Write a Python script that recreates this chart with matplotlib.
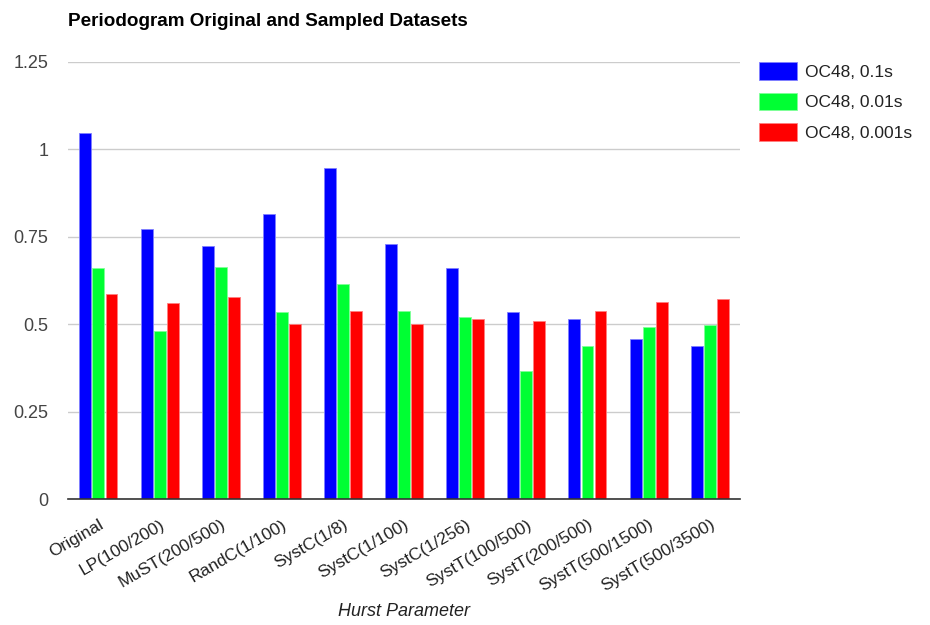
import matplotlib
matplotlib.use('Agg')
import matplotlib.pyplot as plt
import numpy as np

plt.rcParams['font.family'] = ['Liberation Sans', 'DejaVu Sans']

# categorias e valores
categorias = ['Original', 'LP(100/200)', 'MuST(200/500)', 'RandC(1/100)', 'SystC(1/8)',
              'SystC(1/100)', 'SystC(1/256)', 'SystT(100/500)', 'SystT(200/500)',
              'SystT(500/1500)', 'SystT(500/3500)']
oc48_01 = [1.048, 0.771, 0.724, 0.816, 0.947, 0.728, 0.661, 0.534, 0.514, 0.459, 0.438]
oc48_001 = [0.661, 0.480, 0.665, 0.534, 0.615, 0.539, 0.522, 0.366, 0.438, 0.492, 0.497]
oc48_0001 = [0.586, 0.560, 0.577, 0.501, 0.539, 0.502, 0.514, 0.510, 0.539, 0.564, 0.573]
series_nomes = ['OC48, 0.1s', 'OC48, 0.01s', 'OC48, 0.001s']
cores = ['#0000ff', '#00ff33', '#ff0000']
bordas = ['#8080ff', '#80ff99', '#ff8080']

fig = plt.figure(figsize=(9.3, 6.25), dpi=100)
ax = fig.add_axes([0.073, 0.2016, 0.723, 0.6992])

x = np.arange(len(categorias))
w = 0.195
offs = [-0.213, 0, 0.213]
for dados, nome, cor, borda, o in zip([oc48_01, oc48_001, oc48_0001], series_nomes, cores, bordas, offs):
    ax.bar(x + o, dados, w, color=cor, edgecolor=borda, linewidth=0.6, label=nome, zorder=3)

ax.set_xlim(-0.5, len(categorias) - 0.5)
ax.set_ylim(0, 1.25)
ax.set_yticks([0, 0.25, 0.5, 0.75, 1, 1.25])
ax.set_yticklabels(['0', '0.25', '0.5', '0.75', '1', '1.25'])
ax.grid(axis='y', color='#cccccc', linewidth=1, zorder=0)
ax.tick_params(axis='y', length=0, pad=14, labelsize=13, labelcolor='#444444')
ax.tick_params(axis='x', length=0, pad=13, labelsize=12.5, labelcolor='#222222')
ax.set_xticks(x)
ax.set_xticklabels(categorias, rotation=30, ha='right', rotation_mode='anchor')
for s in ['top', 'right', 'left']:
    ax.spines[s].set_visible(False)
ax.spines['bottom'].set_color('#333333')
ax.spines['bottom'].set_linewidth(1.2)
ax.spines['bottom'].set_zorder(4)

# titulo do eixo x e titulo do grafico
fig.text(0.4344, 0.021, 'Hurst Parameter', fontsize=13, style='italic', color='#222222',
         ha='center', va='center')
fig.text(0.073, 0.966, 'Periodogram Original and Sampled Datasets', fontsize=13.6,
         fontweight='bold', color='#000000', va='center', ha='left')

ax.legend(loc='upper left', bbox_to_anchor=(1.028, 1.0), frameon=False, fontsize=12.5,
          borderaxespad=0, borderpad=0,
          handlelength=2.18, handleheight=1.2, handletextpad=0.46, labelspacing=0.74,
          labelcolor='#222222')

fig.savefig('out.png', dpi=100)
